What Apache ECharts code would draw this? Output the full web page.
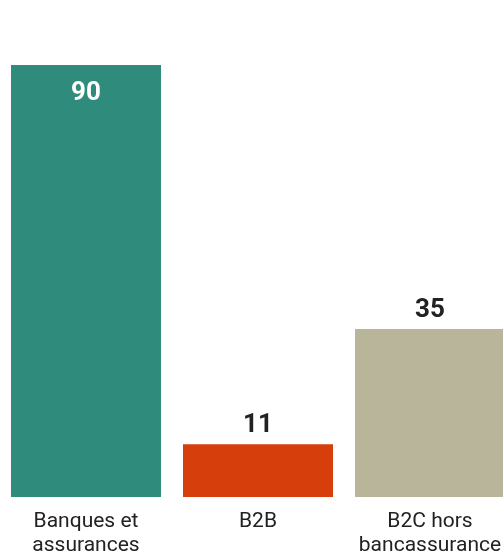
<!DOCTYPE html>
<html>
<head>
<meta charset="utf-8">
<script src="https://cdn.jsdelivr.net/npm/echarts@6/dist/echarts.min.js"></script>
<style>
  html, body { margin: 0; padding: 0; background: #fff; }
  #main { width: 503px; height: 555px; }
</style>
</head>
<body>
<div id="main"></div>
<script>
// données
var categories = ['Banques et\nassurances', 'B2B', 'B2C hors\nbancassurance'];
var values = [90, 11, 35];
var colors = ['#2f8b7b', '#d63f0c', '#b9b59b'];
var labelInside = [true, false, false];

var myChart = echarts.init(document.getElementById('main'));

var seriesData = values.map(function (v, i) {
  return {
    value: v,
    itemStyle: { color: colors[i] },
    label: labelInside[i]
      ? { position: 'insideTop', distance: 15, color: '#ffffff' }
      : { position: 'top', distance: 6, color: '#222222' }
  };
});

var option = {
  animation: false,
  grid: {
    left: 0, top: 65, width: 516, height: 432,
    containLabel: false,
    outerBoundsMode: 'none'
  },
  xAxis: {
    type: 'category',
    data: categories,
    axisLine: { show: false },
    axisTick: { show: false },
    axisLabel: {
      margin: 13,
      fontFamily: 'Roboto',
      fontSize: 21,
      lineHeight: 24,
      color: '#222222',
      interval: 0
    }
  },
  yAxis: {
    type: 'value',
    min: 0,
    max: 90,
    show: false,
    splitLine: { show: false }
  },
  series: [{
    type: 'bar',
    data: seriesData,
    barWidth: 150,
    label: {
      show: true,
      fontFamily: 'Roboto',
      fontWeight: 'bold',
      fontSize: 26
    }
  }]
};

myChart.setOption(option);
</script>
</body>
</html>
